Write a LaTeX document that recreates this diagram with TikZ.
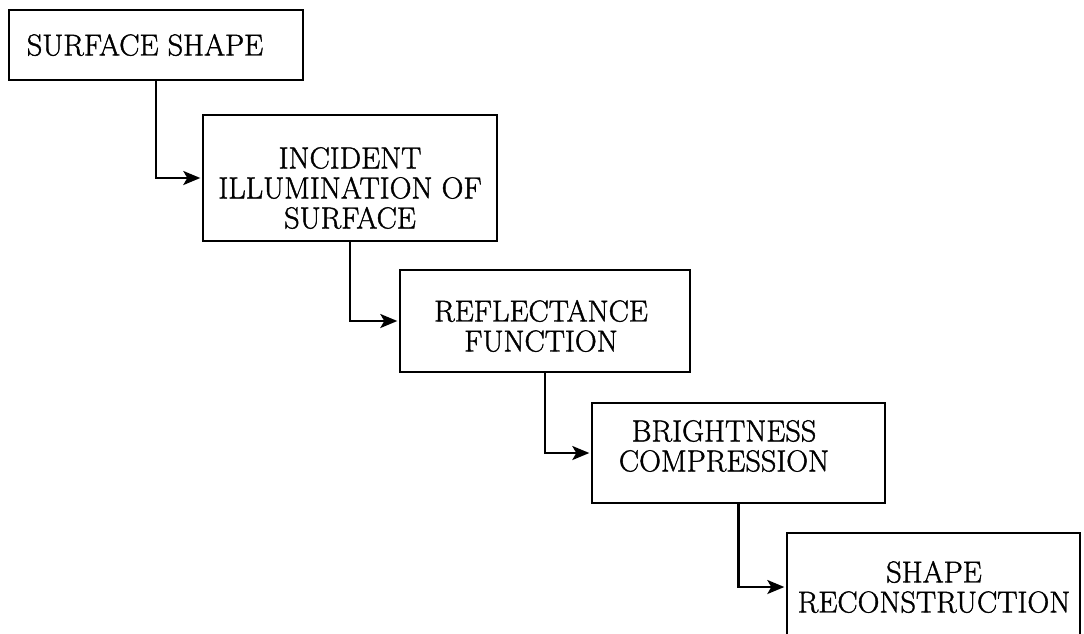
\documentclass[tikz,border=0pt]{standalone}
\usepackage{fontspec}
\setmainfont{Latin Modern Roman}[FakeBold=1.3]
\usetikzlibrary{arrows.meta}
\begin{document}
\begin{tikzpicture}[x=1pt,y=-1pt,
  box/.style={draw=black, line width=2.4pt, rectangle, inner sep=0pt},
  lbl/.style={align=center, font=\fontsize{30.3pt}{30pt}\selectfont, inner sep=0pt, text=black},
  conn/.style={draw=black, line width=2.2pt, shorten >=1.5pt, -{Stealth[length=17pt,width=14pt,inset=4pt]}}]
\useasboundingbox (0,0) rectangle (1084,633);
\clip (0,0) rectangle (1084,633);
% boxes
\node[box, minimum width=294pt, minimum height=70pt]  (b1) at (156,45) {};
\node[box, minimum width=294pt, minimum height=126pt] (b2) at (350,178) {};
\node[box, minimum width=290pt, minimum height=102pt] (b3) at (545,321) {};
\node[box, minimum width=293pt, minimum height=100pt] (b4) at (738.5,453) {};
\node[box, minimum width=293pt, minimum height=108pt] (b5) at (933.5,587) {};
% labels
\node[lbl] (t1) at (145,45)  {SURFACE SHAPE};
\node[lbl] (t2) at (350,188) {INCIDENT\\ILLUMINATION OF\\SURFACE};
\node[lbl] (t3) at (541,326) {REFLECTANCE\\FUNCTION};
\node[lbl] (t4) at (724,446) {BRIGHTNESS\\COMPRESSION};
\node[lbl] (t5) at (934,587) {SHAPE\\RECONSTRUCTION};
% connectors
\draw[conn] (b1.south) |- (b2.west);
\draw[conn] (b2.south) |- (b3.west);
\draw[conn] (b3.south) |- (b4.west);
\draw[conn] (b4.south) |- (b5.west);
\end{tikzpicture}
\end{document}
